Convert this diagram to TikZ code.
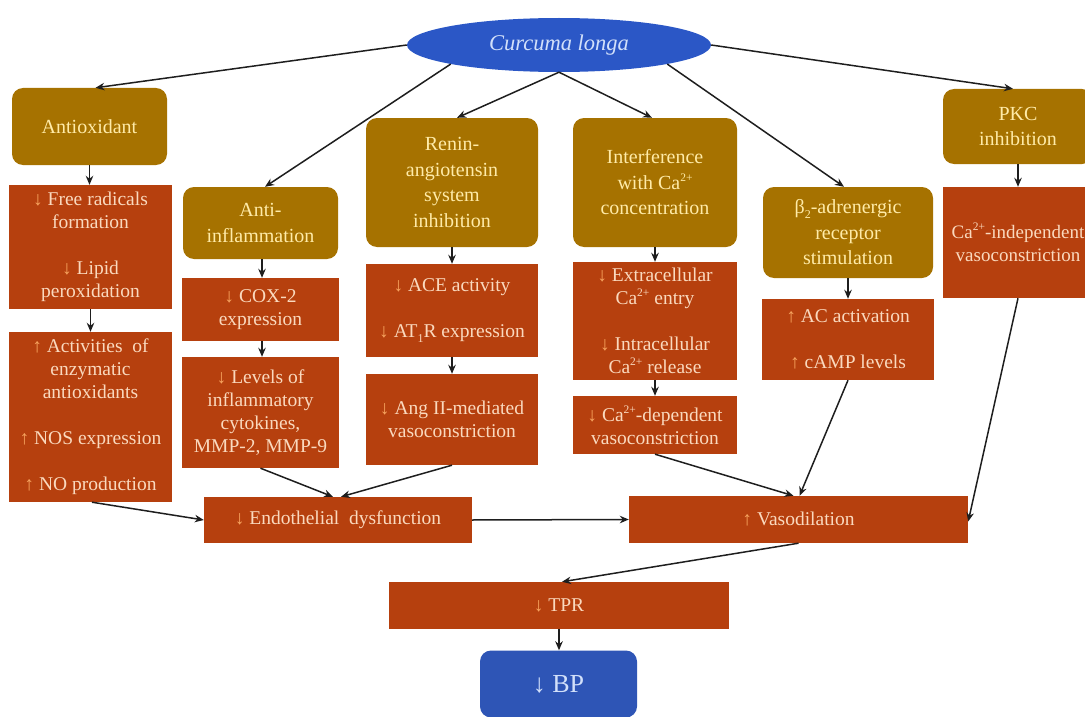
\documentclass[tikz,border=0pt]{standalone}
\usepackage{fontspec}
\setmainfont{Liberation Serif}
\usetikzlibrary{shapes.geometric,arrows.meta}
\definecolor{goldf}{HTML}{A67200}
\definecolor{goldt}{HTML}{FFEBA8}
\definecolor{redf}{HTML}{B6400E}
\definecolor{redt}{HTML}{FAD9BE}
\definecolor{arrc}{HTML}{F6A35E}
\definecolor{bluef}{HTML}{2B57C6}
\definecolor{bluet}{HTML}{D2E0FA}
\definecolor{bpf}{HTML}{2E55B6}
\definecolor{linec}{HTML}{1E1E1E}
\newcommand\myd{{\color{arrc}↓}}
\newcommand\myu{{\color{arrc}↑}}
\newcommand\spp[1]{\raisebox{0.42em}{\fontsize{11.5}{11.5}\selectfont #1}}
\newcommand\sbb[1]{\raisebox{-0.22em}{\fontsize{12}{12}\selectfont #1}}
\tikzset{
  goldbox/.style={rectangle, rounded corners=11pt, fill=goldf, text=goldt, align=center, inner sep=0pt,
    font=\fontsize{20}{25.5}\selectfont},
  redbox/.style={rectangle, fill=redf, text=redt, align=center, inner sep=0pt,
    font=\fontsize{19.5}{23}\selectfont},
  arr/.style={draw=linec, line width=1.5pt, -{Stealth[length=9pt,width=7.5pt]}}
}
\begin{document}
\begin{tikzpicture}[x=1pt,y=-1pt]
\useasboundingbox (0,0) rectangle (1085,717);
% top ellipse
\node[ellipse, fill=bluef, text=bluet, inner sep=0pt, minimum width=304pt, minimum height=54pt,
  font=\fontsize{22.5}{26}\selectfont\itshape] (cl) at (559,45) {Curcuma longa};
% gold boxes
\node[goldbox, minimum width=155pt, minimum height=77pt] (ao) at (89.5,126.5) {Antioxidant};
\node[goldbox, minimum width=155pt, minimum height=72pt] (ai) at (260.5,223) {Anti-\\inflammation};
\node[goldbox, minimum width=172pt, minimum height=129pt] (ras) at (452,182.5) {Renin-\\angiotensin\\system\\inhibition};
\node[goldbox, minimum width=164pt, minimum height=129pt] (ica) at (655,182.5) {Interference\\with Ca\spp{2+}\\concentration};
\node[goldbox, minimum width=170pt, minimum height=91pt] (b2) at (848,232.5) {β\sbb{2}-adrenergic\\receptor\\stimulation};
\node[goldbox, minimum width=150pt, minimum height=75pt] (pkc) at (1018,126.5) {PKC\\inhibition};
% red boxes
\node[redbox, minimum width=163pt, minimum height=124pt] (fr) at (90.5,247) {\myd{} Free radicals\\formation\\[23pt]\myd{} Lipid\\peroxidation};
\node[redbox, minimum width=163pt, minimum height=170pt] (act) at (90.5,417) {\myu{} Activities\ \ of\\enzymatic\\antioxidants\\[23pt]\myu{} NOS expression\\[23pt]\myu{} NO production};
\node[redbox, minimum width=157pt, minimum height=63pt] (cox) at (260.5,309.5) {\myd{} COX-2\\expression};
\node[redbox, minimum width=157pt, minimum height=111pt] (lev) at (260.5,412.5) {\myd{} Levels of\\inflammatory\\cytokines,\\MMP-2, MMP-9};
\node[redbox, minimum width=172pt, minimum height=93pt] (ace) at (452,310.5) {\myd{} ACE activity\\[23pt]\myd{} AT\sbb{1}R expression};
\node[redbox, minimum width=172pt, minimum height=91pt] (ang) at (452,419.5) {\myd{} Ang II-mediated\\vasoconstriction};
\node[redbox, minimum width=164pt, minimum height=118pt] (ext) at (655,321) {\myd{} Extracellular\\Ca\spp{2+} entry\\[23pt]\myd{} Intracellular\\Ca\spp{2+} release};
\node[redbox, minimum width=164pt, minimum height=58pt] (cad) at (655,425) {\myd{} Ca\spp{2+}-dependent\\vasoconstriction};
\node[redbox, minimum width=172pt, minimum height=81pt] (ac) at (848,339.5) {\myu{} AC activation\\[23pt]\myu{} cAMP levels};
\node[redbox, minimum width=150pt, minimum height=111pt, font=\fontsize{19}{23}\selectfont] (cai) at (1018,242.5) {Ca\spp{2+}-independent\\vasoconstriction};
\node[redbox, minimum width=268pt, minimum height=46pt] (end) at (338,520) {\myd{} Endothelial\ \ dysfunction};
\node[redbox, minimum width=339pt, minimum height=47pt] (vas) at (798.5,519.5) {\myu{} Vasodilation};
\node[redbox, minimum width=340pt, minimum height=47pt] (tpr) at (559,605.5) {\myd{} TPR};
\node[rectangle, rounded corners=11pt, fill=bpf, text=bluet, inner sep=0pt, minimum width=157pt, minimum height=67pt,
  font=\fontsize{26}{30}\selectfont] (bp) at (558.5,684) {↓ BP};
% arrows from ellipse
\draw[arr] (cl.180) -- ([xshift=6pt]ao.north);
\draw[arr] (cl.190) -- ([xshift=4.5pt]ai.north);
\draw[arr] (cl.south) -- ([xshift=5pt]ras.north);
\draw[arr] (cl.south) -- ([xshift=-3pt]ica.north);
\draw[arr] (cl.350) -- ([xshift=-4pt]b2.north);
\draw[arr] (cl.0) -- ([xshift=-5pt]pkc.north);
% vertical arrows
\draw[arr] (ao.south) -- (ao.south |- fr.north);
\draw[arr] (fr.south) -- (fr.south |- act.north);
\draw[arr] ([xshift=1.5pt]ai.south) -- ([xshift=1.5pt]ai.south |- cox.north);
\draw[arr] ([xshift=1.5pt]cox.south) -- ([xshift=1.5pt]cox.south |- lev.north);
\draw[arr] (ras.south) -- (ras.south |- ace.north);
\draw[arr] (ace.south) -- (ace.south |- ang.north);
\draw[arr] (ica.south) -- (ica.south |- ext.north);
\draw[arr] (ext.south) -- (ext.south |- cad.north);
\draw[arr] (b2.south) -- (b2.south |- ac.north);
\draw[arr] (pkc.south) -- (pkc.south |- cai.north);
\draw[arr] (tpr.south) -- (tpr.south |- bp.north);
% diagonal arrows
\draw[arr] ([xshift=1.5pt]act.south) -- (end.west);
\draw[arr] (lev.south) -- ([xshift=-5pt]end.north);
\draw[arr] (ang.south) -- ([xshift=3pt]end.north);
\draw[arr] (end.east) -- (vas.west);
\draw[arr] (cad.south) -- ([xshift=-5pt]vas.north);
\draw[arr] (ac.south) -- ([xshift=1pt]vas.north);
\draw[arr] (cai.south) -- ([yshift=-2pt]vas.east);
\draw[arr] (vas.south) -- ([xshift=3pt]tpr.north);
\end{tikzpicture}
\end{document}
